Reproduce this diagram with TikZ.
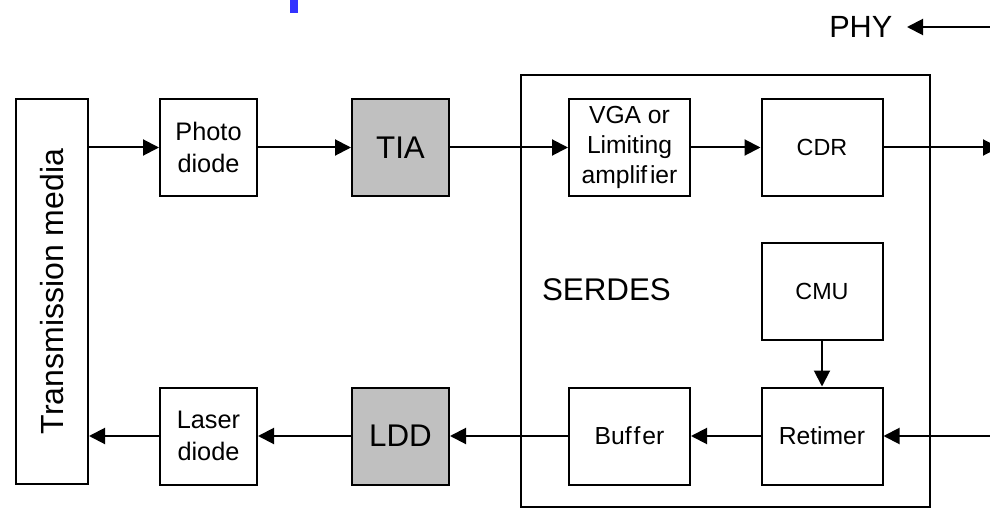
\documentclass[tikz,border=0pt]{standalone}
\usepackage{fontspec}
\setmainfont{Liberation Sans}
\usetikzlibrary{arrows.meta}

\definecolor{boxgray}{RGB}{192,192,192}
\definecolor{markblue}{RGB}{51,51,255}

\tikzset{
  blk/.style={draw, inner sep=0pt, align=center,
    minimum width=72.75pt, minimum height=72.75pt},
  wideblk/.style={blk, minimum width=90.75pt},
  grayblk/.style={blk, fill=boxgray, font=\fontsize{23.5pt}{27pt}\selectfont},
  smalltxt/.style={font=\fontsize{18.5pt}{22.5pt}\selectfont}
}

\begin{document}
\begin{tikzpicture}[x=0.75pt, y=-0.75pt, line width=1.5pt,
  >={Triangle[length=12pt, width=12pt]}]
\useasboundingbox (0,0) rectangle (990,528);
\clip (0,0) rectangle (990,528);

\fill[markblue] (290,0) rectangle (298,13);

\node[blk, minimum width=54pt, minimum height=288.75pt,
  font=\fontsize{24pt}{28pt}\selectfont] (media) at (52,291.5)
  {\rotatebox{90}{Transmission media}};

\node[blk, font=\fontsize{19pt}{23.5pt}\selectfont] (photo) at (208.5,147.5) {Photo\\diode};
\node[blk, font=\fontsize{19pt}{23.5pt}\selectfont] (laser) at (208.5,436) {Laser\\diode};
\node[grayblk] (tia) at (400.5,147.5) {TIA};
\node[grayblk] (ldd) at (400.5,436) {LDD};

\node[draw, inner sep=0pt, minimum width=306.75pt, minimum height=324pt] (serdes) at (725.5,291) {};
\node[anchor=west, inner sep=0pt, font=\fontsize{23.5pt}{27pt}\selectfont] (serdeslbl) at (541,290) {SERDES};

\node[wideblk, smalltxt] (vga) at (629.5,147.5) {VGA or\\Limiting\\amplif\kern2pt ier};
\node[wideblk, smalltxt] (buffer) at (629.5,436) {Buf\kern1.5pt f\kern1.5pt er};
\node[wideblk, font=\fontsize{17.5pt}{21pt}\selectfont] (cdr) at (822,147.5) {CDR};
\node[wideblk, font=\fontsize{17.5pt}{21pt}\selectfont] (cmu) at (822,291) {CMU};
\node[wideblk, smalltxt] (retimer) at (822,436) {Retimer};

\node[anchor=east, inner sep=0pt, outer sep=11pt,
  font=\fontsize{23pt}{27pt}\selectfont] (phy) at (907,27) {PHY};
\coordinate (phyin) at (990,27);
\coordinate (out) at (999,147.5);
\coordinate (in) at (990,436);

\draw[->] (media.east |- photo.west) -- (photo.west);
\draw[->] (photo) -- (tia);
\draw[->] (tia) -- (vga);
\draw[->] (vga) -- (cdr);
\draw[->] (cdr) -- (out);

\draw[->] (cmu) -- (retimer);
\draw[->] (in) -- (retimer);
\draw[->] (retimer) -- (buffer);
\draw[->] (buffer) -- (ldd);
\draw[->] (ldd) -- (laser);
\draw[->] (laser) -- (laser.west -| media.east);

\draw[->] (phyin) -- (phy);
\end{tikzpicture}
\end{document}
